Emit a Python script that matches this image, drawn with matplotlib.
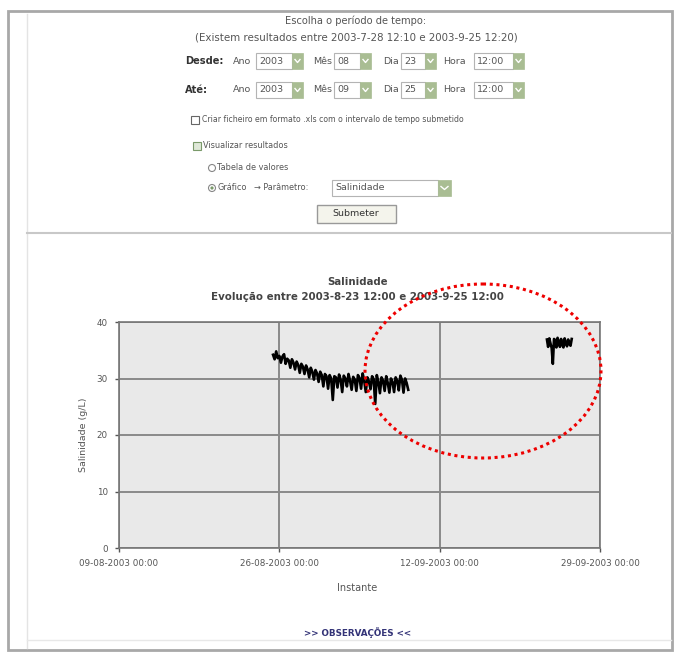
import matplotlib
matplotlib.use("Agg")
import matplotlib.pyplot as plt
import matplotlib.dates as mdates
from matplotlib.patches import Rectangle, Ellipse, Circle
import pandas as pd

# dados (salinidade, g/L)
# primeiro troço: amostras de 4 em 4 horas
inicio_1 = "2003-08-25 08:00"
salinidade_1 = [34.2, 33.4, 34.8, 33.6,
                34.0, 32.8, 33.9, 34.3, 32.6, 33.5,
                33.2, 31.9, 33.4, 32.8, 31.6, 33.0,
                32.4, 31.0, 32.6, 32.1, 30.8, 32.3,
                31.6, 30.2, 31.9, 31.2, 29.8, 31.5,
                30.9, 29.4, 31.2, 30.6, 28.6, 30.8,
                30.4, 28.2, 30.6, 30.0, 26.2, 30.4,
                30.2, 28.4, 30.7, 29.8, 27.6, 30.5,
                30.0, 28.6, 30.8, 29.6, 28.0, 30.3,
                29.8, 27.8, 30.6, 30.1, 28.2, 30.9,
                29.6, 27.6, 30.2, 29.5, 28.1, 30.4,
                29.9, 25.5, 30.6, 29.4, 27.4, 30.2,
                29.6, 27.8, 30.4, 29.2, 27.5, 30.0,
                29.4, 27.6, 30.2, 29.6, 27.9, 30.5,
                29.8, 27.5, 30.0, 29.2, 28.0]
# segundo troço: amostras de 3 em 3 horas
inicio_2 = "2003-09-23 09:00"
salinidade_2 = [36.9, 35.6, 37.1, 36.2, 35.4, 32.6, 37.0, 36.8, 35.5, 37.2, 36.4,
                35.6, 37.0, 36.0, 35.5, 37.1, 36.3, 35.7, 36.9, 36.1, 35.8, 37.0]

datas_ticks = ["2003-08-09", "2003-08-26", "2003-09-12", "2003-09-29"]
y_ticks = [0, 10, 20, 30, 40]

W, H = 679, 652
fig = plt.figure(figsize=(W / 100, H / 100), dpi=100)
fig.patch.set_facecolor("white")

# fundo da pagina em coordenadas de pixel
bg = fig.add_axes([0, 0, 1, 1])
bg.set_xlim(0, W)
bg.set_ylim(H, 0)
bg.axis("off")

bg.add_patch(Rectangle((8, 11), 664, 639, fill=False, ec="#a8a8a8", lw=2))
bg.plot([27, 27], [14, 648], color="#e4e4e4", lw=1)
bg.plot([27, 671], [233, 233], color="#c8c8c8", lw=1.5)
bg.plot([27, 671], [640, 640], color="#e8e8e8", lw=1)

fs = 6.8
cinza = "#555555"
bg.text(356, 21, "Escolha o período de tempo:", ha="center", va="center", fontsize=fs + 0.3, color=cinza)
bg.text(356, 38, "(Existem resultados entre 2003-7-28 12:10 e 2003-9-25 12:20)",
        ha="center", va="center", fontsize=fs + 0.6, color=cinza)


def caixa(x0, x1, y, texto, seta=11):
    bg.add_patch(Rectangle((x0, y - 8), x1 - x0, 16, fc="white", ec="#b4b4b4", lw=0.8))
    bg.text(x0 + 3, y, texto, ha="left", va="center", fontsize=fs, color=cinza)
    bg.add_patch(Rectangle((x1, y - 8), seta, 16, fc="#a9bd93", ec="#a9bd93", lw=0.5))
    bg.plot([x1 + 3, x1 + seta / 2, x1 + seta - 3], [y - 1.5, y + 1.5, y - 1.5], color="white", lw=1)


for y, rot, mes, dia in [(61, "Desde:", "08", "23"), (90, "Até:", "09", "25")]:
    bg.text(185, y, rot, ha="left", va="center", fontsize=fs + 0.3, fontweight="bold", color="#333333")
    bg.text(233, y, "Ano", ha="left", va="center", fontsize=fs, color=cinza)
    caixa(256, 292, y, "2003")
    bg.text(313, y, "Mês", ha="left", va="center", fontsize=fs, color=cinza)
    caixa(334, 360, y, mes)
    bg.text(383, y, "Dia", ha="left", va="center", fontsize=fs, color=cinza)
    caixa(401, 425, y, dia)
    bg.text(443, y, "Hora", ha="left", va="center", fontsize=fs, color=cinza)
    caixa(474, 513, y, "12:00")

fs2 = fs - 0.9
bg.add_patch(Rectangle((191, 116), 8, 8, fc="white", ec="#666666", lw=0.8))
bg.text(202, 120, "Criar ficheiro em formato .xls com o intervalo de tempo submetido",
        ha="left", va="center", fontsize=fs2 - 0.3, color=cinza)
bg.add_patch(Rectangle((193, 142), 8, 8, fc="#dfe8d8", ec="#7a9a6a", lw=0.8))
bg.text(203, 146, "Visualizar resultados", ha="left", va="center", fontsize=fs2, color=cinza)
bg.add_patch(Circle((212, 168), 3.5, fc="white", ec="#888888", lw=0.8))
bg.text(217, 168, "Tabela de valores", ha="left", va="center", fontsize=fs2, color=cinza)
bg.add_patch(Circle((212, 188), 3.5, fc="white", ec="#888888", lw=0.8))
bg.add_patch(Circle((212, 188), 1.6, fc="#7a9a6a", ec="none"))
bg.text(217, 188, "Gráfico", ha="left", va="center", fontsize=fs2, color=cinza)
bg.text(254, 188, "→ Parâmetro:", ha="left", va="center", fontsize=fs2, color=cinza)
caixa(332, 438, 188, "Salinidade", seta=13)
bg.add_patch(Rectangle((317, 205), 79, 18, fc="#f4f4ec", ec="#999999", lw=1))
bg.text(356, 214, "Submeter", ha="center", va="center", fontsize=fs, color="#333333")

# titulo e eixos do grafico
bg.text(357, 282, "Salinidade", ha="center", va="center", fontsize=7.3, fontweight="bold", color="#444444")
bg.text(357, 297, "Evolução entre 2003-8-23 12:00 e 2003-9-25 12:00",
        ha="center", va="center", fontsize=7.4, fontweight="bold", color="#444444")
bg.text(357, 588, "Instante", ha="center", va="center", fontsize=7, color="#555555")
bg.text(83, 435, "Salinidade (g/L)", ha="center", va="center", rotation=90, fontsize=6.8, color="#555555")
bg.text(358, 633, ">> OBSERVAÇÕES <<", ha="center", va="center", fontsize=6.3, fontweight="bold", color="#333377")

x0, x1, yt, yb = 119, 600, 322, 548
ax = fig.add_axes([x0 / W, 1 - yb / H, (x1 - x0) / W, (yb - yt) / H])
ax.set_facecolor("#e9e9e9")

t1 = pd.date_range(inicio_1, periods=len(salinidade_1), freq="4h")
t2 = pd.date_range(inicio_2, periods=len(salinidade_2), freq="3h")
ax.plot(t1, salinidade_1, color="black", lw=1.9)
ax.plot(t2, salinidade_2, color="black", lw=1.9)

ticks = pd.to_datetime(datas_ticks)
ax.set_xlim(ticks[0], ticks[-1])
ax.set_ylim(0, 40)
ax.set_xticks(ticks)
ax.xaxis.set_major_formatter(mdates.DateFormatter("%d-%m-%Y %H:%M"))
ax.set_yticks(y_ticks)
ax.grid(True, color="#8a8a8a", lw=1.4)
ax.set_axisbelow(True)
ax.tick_params(labelsize=6.3, colors="#555555", length=3, width=1, pad=5)
for s in ax.spines.values():
    s.set_color("#777777")
    s.set_linewidth(1.2)

# elipse vermelha pontilhada por cima de tudo
ov = fig.add_axes([0, 0, 1, 1])
ov.set_xlim(0, W)
ov.set_ylim(H, 0)
ov.axis("off")
ov.patch.set_alpha(0)
ov.add_patch(Ellipse((483, 371), 236, 174, fill=False, ec="#ee0000", lw=2.2, ls=(0, (1, 1.2))))

fig.savefig("out.png", dpi=100)
